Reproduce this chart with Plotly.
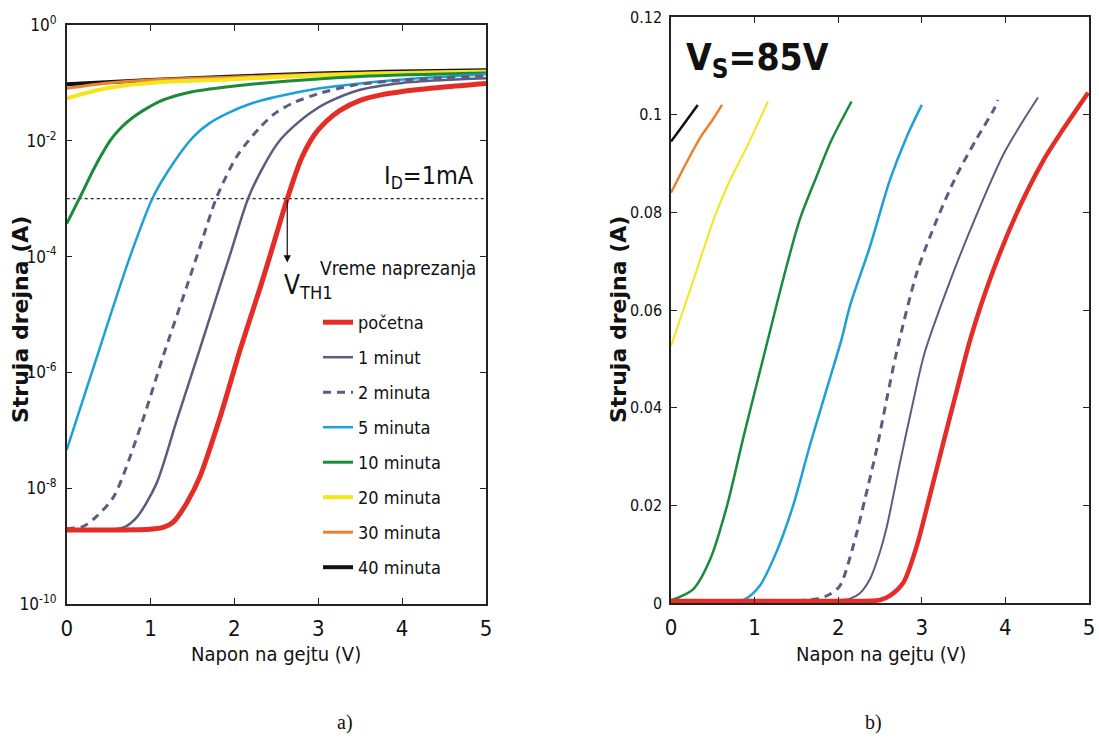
import plotly.graph_objects as go

# ---------------- data ----------------
series_names = ["početna", "1 minut", "2 minuta", "5 minuta",
                "10 minuta", "20 minuta", "30 minuta", "40 minuta"]
series_colors = ["#e52d27", "#5a5d7f", "#5a5d7f", "#1ba1d8",
                 "#1b8a3a", "#f5e61c", "#e9822e", "#111111"]

# panel a) : drain current (A) vs gate voltage (V), log scale
xa_pocetna = [0, 0.5, 1.0, 1.15, 1.27, 1.43, 1.59, 1.83, 2.07, 2.31, 2.43, 2.63, 2.80, 2.95, 3.10,
              3.25, 3.5, 3.75, 4.0, 4.5, 5.0]
ya_pocetna = [1.9e-9, 1.9e-9, 1.95e-9, 2.1e-9, 2.6e-9, 5.5e-9, 1.6e-8, 1.7e-7, 2.5e-6, 3.0e-5, 1.1e-4,
              1.0e-3, 5.0e-3, 1.25e-2, 2.2e-2, 3.3e-2, 5.0e-2, 6.2e-2, 7.1e-2, 8.5e-2, 9.8e-2]
xa_1min = [0, 0.4, 0.68, 0.84, 1.07, 1.31, 1.59, 1.79, 1.95, 2.17, 2.39, 2.55, 2.70, 2.90, 3.10, 3.5,
           4.0, 4.5, 5.0]
ya_1min = [1.9e-9, 1.9e-9, 2.1e-9, 3.2e-9, 1.2e-8, 1.45e-7, 2.6e-6, 2.1e-5, 1.1e-4, 1.07e-3, 4.7e-3,
           1.05e-2, 1.74e-2, 3.0e-2, 4.5e-2, 7.6e-2, 0.1, 0.112, 0.12]
xa_2min = [0, 0.2, 0.35, 0.56, 0.88, 1.15, 1.43, 1.59, 1.79, 2.03, 2.31, 2.50, 2.70, 3.0, 3.42, 4.0,
           4.5, 5.0]
ya_2min = [2.0e-9, 2.2e-9, 3.2e-9, 7.1e-9, 1.15e-7, 1.9e-6, 3.0e-5, 1.48e-4, 1.07e-3, 5.4e-3, 1.74e-2,
           3.1e-2, 4.5e-2, 6.5e-2, 9.1e-2, 0.112, 0.123, 0.132]
xa_5min = [0, 0.3, 0.75, 1.03, 1.27, 1.51, 1.70, 1.91, 2.2, 2.5, 3.0, 3.5, 4.2, 5.0]
ya_5min = [4.6e-8, 1.0e-6, 9.5e-5, 1.07e-3, 4.1e-3, 1.17e-2, 2.0e-2, 2.95e-2, 4.4e-2, 5.75e-2, 8.0e-2,
           9.8e-2, 0.12, 0.141]
xa_10min = [0, 0.08, 0.16, 0.24, 0.32, 0.42, 0.52, 0.65, 0.80, 0.95, 1.11, 1.30, 1.51, 1.9, 2.3, 3.5, 5.0]
ya_10min = [3.7e-4, 6.3e-4, 1.07e-3, 1.86e-3, 3.2e-3, 5.9e-3, 1.02e-2, 1.7e-2, 2.6e-2, 3.6e-2, 4.8e-2,
            6.0e-2, 7.1e-2, 8.5e-2, 9.8e-2, 0.129, 0.148]
xa_20min = [0, 0.35, 0.71, 1.2, 1.91, 3.0, 4.0, 5.0]
ya_20min = [0.054, 0.074, 0.091, 0.105, 0.115, 0.135, 0.148, 0.158]
xa_30min = [0, 0.5, 1.0, 2.0, 3.0, 4.0, 5.0]
ya_30min = [0.081, 0.1, 0.112, 0.126, 0.141, 0.151, 0.158]
xa_40min = [0, 1, 2, 3, 3.5, 4, 5]
ya_40min = [0.095, 0.112, 0.129, 0.145, 0.151, 0.158, 0.166]

# panel b) : drain current (A) vs gate voltage (V), linear scale, V_S = 85 V
xb_pocetna = [0, 1.0, 2.0, 2.5, 2.62, 2.78, 2.94, 3.10, 3.26, 3.42, 3.58, 3.82, 4.14, 4.45, 4.69, 4.99]
yb_pocetna = [0.0004, 0.0004, 0.0004, 0.0006, 0.0015, 0.0042, 0.0117, 0.0222, 0.0330, 0.0436, 0.054,
              0.0665, 0.0800, 0.0905, 0.0970, 0.1045]
xb_1min = [0, 1.0, 2.0, 2.14, 2.26, 2.38, 2.50, 2.58, 2.74, 2.90, 3.03, 3.34, 3.66, 3.98, 4.21, 4.39]
yb_1min = [0.0004, 0.0004, 0.0006, 0.0009, 0.002, 0.0049, 0.0105, 0.0155, 0.0288, 0.0415, 0.051,
           0.066, 0.0797, 0.092, 0.0987, 0.1035]
xb_2min = [0, 1.0, 1.74, 1.9, 2.02, 2.18, 2.32, 2.46, 2.58, 2.70, 2.94, 3.18, 3.42, 3.66, 3.86, 3.91]
yb_2min = [0.0004, 0.0004, 0.0008, 0.0018, 0.0035, 0.0117, 0.0213, 0.0315, 0.0417, 0.0515, 0.0676,
           0.0785, 0.0877, 0.0952, 0.101, 0.103]
xb_5min = [0, 0.5, 0.86, 1.06, 1.26, 1.46, 1.66, 1.86, 2.04, 2.14, 2.38, 2.62, 2.82, 3.0]
yb_5min = [0.0004, 0.0004, 0.0006, 0.0035, 0.0104, 0.0199, 0.0322, 0.0437, 0.054, 0.0608, 0.073,
           0.0867, 0.0955, 0.102]
xb_10min = [0, 0.1, 0.27, 0.47, 0.67, 0.86, 1.06, 1.16, 1.34, 1.54, 1.74, 1.92, 2.16]
yb_10min = [0.0006, 0.0012, 0.0029, 0.009, 0.0199, 0.0335, 0.0472, 0.054, 0.0662, 0.0785, 0.0873,
            0.0948, 0.1027]
xb_20min = [0, 0.27, 0.51, 0.69, 0.91, 1.16]
yb_20min = [0.0526, 0.0662, 0.0785, 0.086, 0.0935, 0.1027]
xb_30min = [0, 0.18, 0.35, 0.5, 0.61]
yb_30min = [0.084, 0.090, 0.0953, 0.099, 0.102]
xb_40min = [0, 0.15, 0.32]
yb_40min = [0.0945, 0.098, 0.102]

# threshold marker (panel a)
id_level = 1e-3          # I_D = 1 mA
vth1 = 2.63              # V_TH1 of the initial curve at I_D = 1 mA

# tick labels
xticks = [0, 1, 2, 3, 4, 5]
ya_tickvals = [1e-10, 1e-8, 1e-6, 1e-4, 1e-2, 1e0]
ya_ticktext = ["10<sup>-10</sup>", "10<sup>-8</sup>", "10<sup>-6</sup>", "10<sup>-4</sup>",
               "10<sup>-2</sup>", "10<sup>0</sup>"]
yb_tickvals = [0, 0.02, 0.04, 0.06, 0.08, 0.1, 0.12]
yb_ticktext = ["0", "0.02", "0.04", "0.06", "0.08", "0.1", "0.12"]

# ---------------- styles ----------------
NARROW = "Liberation Sans Narrow, DejaVu Sans Condensed, Arial Narrow, sans-serif"
BOLD = "DejaVu Sans, Liberation Sans, sans-serif"
SERIF = "Liberation Serif, Times New Roman, serif"
widths_a = [5, 2.5, 3, 2.5, 3, 4, 3, 4]
widths_b = [4.5, 2, 3, 2.5, 2.5, 2, 2.5, 2.5]
dashes = ["solid", "solid", "8px,6px", "solid", "solid", "solid", "solid", "solid"]

data_a = [(xa_pocetna, ya_pocetna), (xa_1min, ya_1min), (xa_2min, ya_2min), (xa_5min, ya_5min),
          (xa_10min, ya_10min), (xa_20min, ya_20min), (xa_30min, ya_30min), (xa_40min, ya_40min)]
data_b = [(xb_pocetna, yb_pocetna), (xb_1min, yb_1min), (xb_2min, yb_2min), (xb_5min, yb_5min),
          (xb_10min, yb_10min), (xb_20min, yb_20min), (xb_30min, yb_30min), (xb_40min, yb_40min)]

fig = go.Figure()

# dotted I_D = 1 mA line
fig.add_trace(go.Scatter(x=[0, 5], y=[id_level, id_level], mode="lines",
                         line=dict(color="#222", width=1.2, dash="dot"),
                         showlegend=False, hoverinfo="skip", xaxis="x", yaxis="y"))

order = [7, 6, 5, 4, 3, 2, 1, 0]  # draw red last (on top)
for i in order:
    x, y = data_a[i]
    fig.add_trace(go.Scatter(
        x=x, y=y, mode="lines", name=series_names[i], legendgroup=series_names[i],
        legendrank=i + 1,
        line=dict(color=series_colors[i], width=widths_a[i], dash=dashes[i],
                  shape="spline", smoothing=0.8),
        xaxis="x", yaxis="y", showlegend=True))
for i in order:
    x, y = data_b[i]
    fig.add_trace(go.Scatter(
        x=x, y=y, mode="lines", name=series_names[i], legendgroup=series_names[i],
        line=dict(color=series_colors[i], width=widths_b[i], dash=dashes[i],
                  shape="spline", smoothing=0.8),
        xaxis="x2", yaxis="y2", showlegend=False))

axis_common = dict(showline=True, linecolor="#222", linewidth=1.5, mirror="ticks",
                   ticks="inside", ticklen=6, tickwidth=1, tickcolor="#222",
                   showgrid=False, zeroline=False, automargin=False)

W, H = 1099, 744
fig.update_layout(
    width=W, height=H, margin=dict(l=0, r=0, t=0, b=0, pad=0, autoexpand=False),
    paper_bgcolor="white", plot_bgcolor="white",
    font=dict(family=NARROW, color="#111"),
    xaxis=dict(domain=[66.7 / W, 486 / W], range=[0, 5], tickvals=xticks, ticklabelstandoff=4,
               tickfont=dict(family=NARROW, size=22, color="#111"), anchor="y", **axis_common),
    yaxis=dict(domain=[1 - 604 / H, 1 - 25 / H], type="log", range=[-10, 0],
               tickvals=ya_tickvals, ticktext=ya_ticktext, ticklabelstandoff=5,
               tickfont=dict(family=NARROW, size=17, color="#111"), anchor="x", **axis_common),
    xaxis2=dict(domain=[671 / W, 1089 / W], range=[0, 5], tickvals=xticks, ticklabelstandoff=4,
                tickfont=dict(family=NARROW, size=22, color="#111"), anchor="y2", **axis_common),
    yaxis2=dict(domain=[1 - 603 / H, 1 - 17 / H], range=[0, 0.12],
                tickvals=yb_tickvals, ticktext=yb_ticktext, ticklabelstandoff=4,
                tickfont=dict(family=NARROW, size=16, color="#111"), anchor="x2", **axis_common),
    legend=dict(x=318 / W, y=1 - 304 / H, xanchor="left", yanchor="top",
                bgcolor="rgba(0,0,0,0)", borderwidth=0, tracegroupgap=8.6,
                font=dict(family=NARROW, size=18, color="#111")),
)

ann = []
# arrow from the I_D line down to V_TH1
ann.append(dict(x=vth1, y=-4.1, xref="x", yref="y", ax=vth1, ay=-3.0, axref="x", ayref="y",
                showarrow=True, arrowhead=2, arrowsize=1.2, arrowwidth=1.2, arrowcolor="#111", text=""))
ann.append(dict(x=476 / W, y=1 - 177 / H, xref="paper", yref="paper", xanchor="right", yanchor="middle",
                text="I<sub>D</sub>=1mA", showarrow=False, font=dict(family=NARROW, size=25, color="#111")))
ann.append(dict(x=282 / W, y=1 - 268 / H, xref="paper", yref="paper", xanchor="left", yanchor="top",
                text="V<sub>TH1</sub>", showarrow=False, font=dict(family=NARROW, size=26, color="#111")))
ann.append(dict(x=318 / W, y=1 - 268 / H, xref="paper", yref="paper", xanchor="left", yanchor="middle",
                text="Vreme naprezanja", showarrow=False, font=dict(family=NARROW, size=19, color="#111")))
ann.append(dict(x=684 / W, y=1 - 34 / H, xref="paper", yref="paper", xanchor="left", yanchor="top",
                text="<b>V<sub>S</sub>=85V</b>", showarrow=False, font=dict(family=NARROW, size=37, color="#111")))
# axis titles
for xc in (276, 881):
    ann.append(dict(x=xc / W, y=1 - 654 / H, xref="paper", yref="paper", xanchor="center", yanchor="middle",
                    text="Napon na gejtu (V)", showarrow=False, font=dict(family=NARROW, size=20, color="#111")))
for xc in (20, 618):
    ann.append(dict(x=xc / W, y=1 - 320 / H, xref="paper", yref="paper", xanchor="center", yanchor="middle",
                    text="<b>Struja drejna (A)</b>", textangle=-90, showarrow=False,
                    font=dict(family=BOLD, size=22, color="#111")))
ann.append(dict(x=345 / W, y=1 - 722 / H, xref="paper", yref="paper", xanchor="center", yanchor="middle",
                text="a)", showarrow=False, font=dict(family=SERIF, size=20, color="#111")))
ann.append(dict(x=873 / W, y=1 - 722 / H, xref="paper", yref="paper", xanchor="center", yanchor="middle",
                text="b)", showarrow=False, font=dict(family=SERIF, size=20, color="#111")))
fig.update_layout(annotations=ann)

fig.write_html("out.html", config={"displayModeBar": False},
               post_script="document.body.style.margin='0';document.body.style.overflow='hidden';")
